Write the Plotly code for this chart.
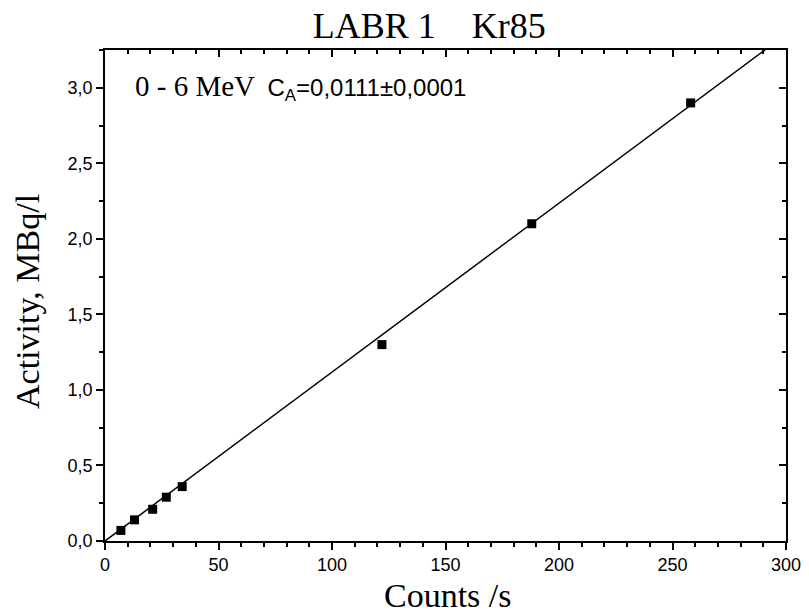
import plotly.graph_objects as go

counts = [7, 13, 21, 27, 34, 122, 188, 258]
activity = [0.07, 0.14, 0.21, 0.29, 0.36, 1.30, 2.10, 2.90]
err = [0.012, 0.012, 0.012, 0.012, 0.012, 0.012, 0.012, 0.012]
slope = 0.01118
fit_x = [0, 293]
fit_y = [slope * v for v in fit_x]

XR = [0, 300]
YR = [0, 3.25]
XT = [0, 50, 100, 150, 200, 250, 300]
YT = [0, 0.5, 1.0, 1.5, 2.0, 2.5, 3.0]

SERIF = "Liberation Serif, Times New Roman, serif"
SANS = "Liberation Sans, Arial, sans-serif"

fig = go.Figure()
fig.add_trace(go.Scatter(x=fit_x, y=fit_y, mode="lines",
                         line=dict(color="black", width=1.5), showlegend=False, hoverinfo="skip"))
fig.add_trace(go.Scatter(x=counts, y=activity, mode="markers",
                         marker=dict(symbol="square", size=9, color="black"),
                         error_y=dict(type="data", array=err, color="black", thickness=1, width=2),
                         showlegend=False))
fig.add_trace(go.Scatter(x=[150], y=[1.5], xaxis="x2", yaxis="y2", mode="markers",
                         marker=dict(opacity=0), showlegend=False, hoverinfo="skip"))

axfont = dict(family=SANS, size=18, color="black")
common = dict(showgrid=False, zeroline=False, showline=True, linecolor="black", linewidth=1.5,
              tickwidth=1.5, tickcolor="black", ticklen=7, automargin=False)
fig.update_layout(
    width=801, height=607,
    margin=dict(l=97, r=23, t=42, b=74),
    plot_bgcolor="white", paper_bgcolor="white",
    separators=", ",
    title=dict(text="LABR 1\u00a0\u00a0\u00a0\u00a0Kr85", x=0.526, xanchor="center", y=0.971, yanchor="middle",
               font=dict(family=SERIF, size=36, color="black")),
    xaxis=dict(range=XR, tickvals=XT, ticks="outside", tickfont=axfont, ticklabeloverflow="allow",
               minor=dict(dtick=10, ticks="outside", ticklen=4, tickwidth=1.5, tickcolor="black"),
               **common),
    yaxis=dict(range=YR, tickvals=YT, tickformat=".1f", ticks="outside", tickfont=axfont,
               minor=dict(dtick=0.25, ticks="outside", ticklen=4, tickwidth=1.5, tickcolor="black"),
               **common),
    xaxis2=dict(range=XR, overlaying="x", side="top", anchor="y", tickvals=XT,
                showticklabels=False, ticks="inside",
                minor=dict(dtick=10, ticks="inside", ticklen=4, tickwidth=1.5, tickcolor="black"),
                **common),
    yaxis2=dict(range=YR, overlaying="y", side="right", anchor="x", tickvals=YT,
                showticklabels=False, ticks="inside",
                minor=dict(dtick=0.25, ticks="inside", ticklen=4, tickwidth=1.5, tickcolor="black"),
                **common),
)
fig.add_annotation(xref="paper", yref="paper", x=0.504, y=-0.112, xanchor="center", yanchor="middle",
                   showarrow=False, text="Counts /s",
                   font=dict(family=SERIF, size=34, color="black"))
fig.add_annotation(xref="paper", yref="paper", x=-0.113, y=0.487, xanchor="center", yanchor="middle",
                   showarrow=False, text="Activity, MBq/l", textangle=-90,
                   font=dict(family=SERIF, size=34, color="black"))
fig.add_annotation(xref="paper", yref="paper", x=0.041, y=0.923, xanchor="left", yanchor="middle",
                   showarrow=False,
                   text="<span style='font-family:Liberation Serif, Times New Roman, serif;font-size:29px'>0 - 6 MeV</span>"
                        "\u00a0\u00a0<span style='font-family:Liberation Sans, Arial, sans-serif;font-size:24px'>C<sub>A</sub>=0,0111±0,0001</span>",
                   font=dict(color="black", size=24))
fig.write_html("out.html")
